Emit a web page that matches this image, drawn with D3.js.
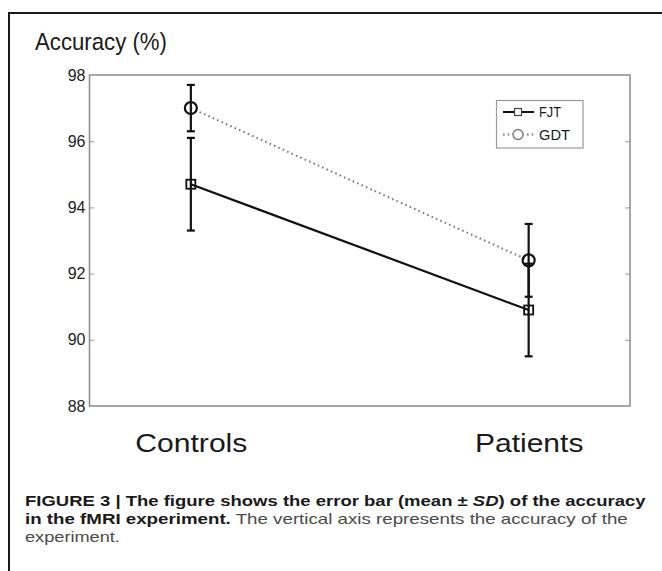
<!DOCTYPE html>
<html><head><meta charset="utf-8">
<script src="https://cdn.jsdelivr.net/npm/d3@7/dist/d3.min.js"></script>
<style>
html,body{margin:0;padding:0;background:#fff;}
svg{display:block;font-family:"Liberation Sans",Arial,Helvetica,sans-serif;}
</style></head>
<body>
<svg id="chart" width="662" height="571"></svg>
<script>
const groups = ["Controls", "Patients"];
const seriesNames = ["FJT", "GDT"];
const fjtMean = [94.7, 90.9];
const fjtSD = [1.4, 1.4];
const gdtMean = [97.0, 92.4];
const gdtSD = [0.7, 1.1];
const yTicks = [88, 90, 92, 94, 96, 98];

const svg = d3.select("#chart");

// outer frame (top and left edges visible)
svg.append("path").attr("d", "M9,580 V13 H670")
  .attr("fill", "none").attr("stroke", "#1a1a1a").attr("stroke-width", 2);

const pLeft = 89.5, pRight = 630, pTop = 75, pBottom = 406;
const x = d3.scalePoint().domain(groups).range([pLeft, pRight]).padding(0.3);
const y = d3.scaleLinear().domain([88, 98]).range([pBottom, pTop]);

function fitWidth(sel, w) {
  const bb = sel.node().getBBox();
  const s = w / bb.width;
  const x0 = +sel.attr("x");
  sel.attr("transform", `translate(${x0},0) scale(${s},1) translate(${-x0},0)`);
}
const title = svg.append("text").attr("x", 35).attr("y", 50)
  .attr("font-size", 24).attr("fill", "#1a1a1a").text("Accuracy (%)");
fitWidth(title, 132);

// axes
const gL = svg.append("g").attr("transform", `translate(${pLeft},0)`)
  .call(d3.axisLeft(y).tickValues(yTicks).tickSize(-5).tickPadding(4).tickFormat(d3.format("d")));
gL.select(".domain").remove();
gL.selectAll(".tick line").attr("stroke", "#aaa").attr("stroke-width", 1.2)
  .filter(d => d === 88 || d === 98).remove();
gL.selectAll(".tick text").attr("font-size", 16).attr("fill", "#222")
  .attr("font-family", "Liberation Sans, Arial, sans-serif");

const gR = svg.append("g").attr("transform", `translate(${pRight},0)`)
  .call(d3.axisRight(y).tickValues(yTicks).tickSize(-5).tickFormat(""));
gR.select(".domain").remove();
gR.selectAll(".tick line").attr("stroke", "#aaa").attr("stroke-width", 1.2)
  .filter(d => d === 88 || d === 98).remove();

// plot box
svg.append("rect").attr("x", pLeft).attr("y", pTop)
  .attr("width", pRight - pLeft).attr("height", pBottom - pTop)
  .attr("fill", "none").attr("stroke", "#8a8a8a").attr("stroke-width", 1.5);

// x labels
const gX = svg.append("g").attr("transform", `translate(0,${pBottom})`)
  .call(d3.axisBottom(x).tickSize(0).tickPadding(0));
gX.select(".domain").remove();
gX.selectAll(".tick text").attr("dy", null).attr("y", 46)
  .attr("font-size", 25).attr("fill", "#1a1a1a")
  .attr("font-family", "Liberation Sans, Arial, sans-serif")
  .each(function() {
    const t = d3.select(this);
    const w = this.getBBox().width;
    t.attr("transform", `scale(${112 / w * (t.text() === "Patients" ? 0.97 : 1)},1)`);
  });

const series = [
  { name: "FJT", mean: fjtMean, sd: fjtSD, color: "#111", dash: null, width: 2.2, marker: "square" },
  { name: "GDT", mean: gdtMean, sd: gdtSD, color: "#7a7a7a", dash: "1.6,3.2", width: 2, marker: "circle" }
];

const plot = svg.append("g");
const line = d3.line().x(d => x(d.g)).y(d => y(d.v));

series.forEach(s => {
  const pts = groups.map((g, i) => ({ g, v: s.mean[i], sd: s.sd[i] }));
  plot.append("path").datum(pts).attr("d", line)
    .attr("fill", "none").attr("stroke", s.color).attr("stroke-width", s.width)
    .attr("stroke-dasharray", s.dash);
});

series.forEach(s => {
  const pts = groups.map((g, i) => ({ g, v: s.mean[i], sd: s.sd[i] }));
  const eb = plot.append("g").attr("stroke", "#111").attr("stroke-width", 2.2).attr("fill", "none");
  pts.forEach(p => {
    const cx = x(p.g), y1 = y(p.v + p.sd), y2 = y(p.v - p.sd);
    eb.append("line").attr("x1", cx).attr("x2", cx).attr("y1", y1).attr("y2", y2);
    eb.append("line").attr("x1", cx - 4).attr("x2", cx + 4).attr("y1", y1).attr("y2", y1);
    eb.append("line").attr("x1", cx - 4).attr("x2", cx + 4).attr("y1", y2).attr("y2", y2);
    if (s.marker === "square") {
      eb.append("rect").attr("x", cx - 4.5).attr("y", y(p.v) - 4.5).attr("width", 9).attr("height", 9)
        .attr("stroke-width", 1.8);
    } else {
      eb.append("circle").attr("cx", cx).attr("cy", y(p.v)).attr("r", 6).attr("stroke-width", 2.2);
    }
  });
});

// legend
const lg = svg.append("g");
lg.append("rect").attr("x", 496.5).attr("y", 100.5).attr("width", 86.5).attr("height", 47.5)
  .attr("fill", "#fff").attr("stroke", "#9a9a9a").attr("stroke-width", 1.2);
series.forEach((s, i) => {
  const ly = 112 + i * 22.5;
  lg.append("line").attr("x1", 503).attr("x2", 534).attr("y1", ly).attr("y2", ly)
    .attr("stroke", s.color).attr("stroke-width", s.name === "FJT" ? 2 : 1.8)
    .attr("stroke-dasharray", s.dash);
  if (s.marker === "square") {
    lg.append("rect").attr("x", 514.5).attr("y", ly - 3.5).attr("width", 7).attr("height", 7)
      .attr("fill", "#fff").attr("stroke", "#444").attr("stroke-width", 1.2);
  } else {
    lg.append("circle").attr("cx", 518).attr("cy", ly).attr("r", 5)
      .attr("fill", "#fff").attr("stroke", "#777").attr("stroke-width", 1.3);
  }
  const t = lg.append("text").attr("x", 539).attr("y", ly + 5.5).attr("font-size", 15)
    .attr("fill", "#1a1a1a").text(s.name);
  fitWidth(t, s.name === "FJT" ? 22 : 31);
});

// caption
const cap = svg.append("g").attr("font-family", "Liberation Sans, Arial, sans-serif").attr("font-size", 15);
const l1 = cap.append("text").attr("x", 25).attr("y", 506).attr("font-weight", "bold").attr("fill", "#1a1a1a");
l1.append("tspan").text("FIGURE 3 | The figure shows the error bar (mean \u00b1 ");
l1.append("tspan").attr("font-style", "italic").text("SD");
l1.append("tspan").text(") of the accuracy");
fitWidth(l1, 622);
const l2 = cap.append("text").attr("x", 25).attr("y", 524.5);
l2.append("tspan").attr("font-weight", "bold").attr("fill", "#1a1a1a").text("in the fMRI experiment.");
l2.append("tspan").attr("fill", "#4a4a4a").text(" The vertical axis represents the accuracy of the");
fitWidth(l2, 603);
const l3 = cap.append("text").attr("x", 25).attr("y", 542.5).attr("fill", "#4a4a4a").text("experiment.");
fitWidth(l3, 95);
</script>
</body></html>
